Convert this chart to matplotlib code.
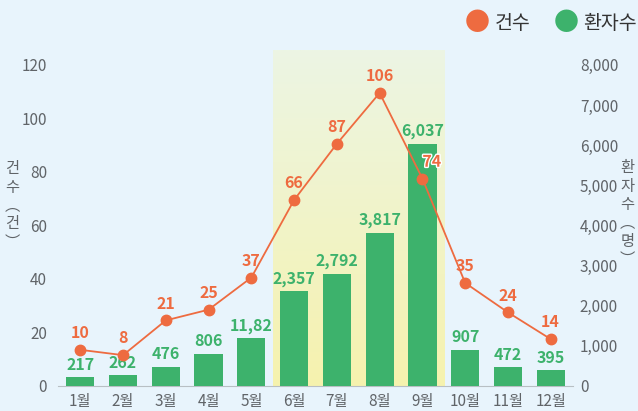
import numpy as np
import matplotlib.pyplot as plt
import matplotlib.patheffects as pe
from matplotlib.colors import LinearSegmentedColormap

plt.rcParams['font.family'] = ['Noto Sans CJK KR', 'DejaVu Sans']

# datos
months = ['1월', '2월', '3월', '4월', '5월', '6월', '7월', '8월', '9월', '10월', '11월', '12월']
cases = [10, 8, 21, 25, 37, 66, 87, 106, 74, 35, 24, 14]
patients = [217, 262, 476, 806, 1182, 2357, 2792, 3817, 6037, 907, 472, 395]
patient_labels = ['217', '262', '476', '806', '11,82', '2,357', '2,792', '3,817', '6,037', '907', '472', '395']
left_ticks = [0, 20, 40, 60, 80, 100, 120]
right_ticks = [0, 1000, 2000, 3000, 4000, 5000, 6000, 7000, 8000]

bg = '#e8f4fc'
orange = '#ee6b40'
green = '#3db26c'
grey = '#606468'

fig = plt.figure(figsize=(6.38, 4.11), dpi=100, facecolor=bg)
ax = fig.add_axes([0.091, 0.061, 0.807, 0.817])
ax.set_facecolor(bg)

x = np.arange(len(months))
ymax = 125.5
xlim = (-0.52, 11.52)

# zona resaltada (jun-sep) con degradado
cmap = LinearSegmentedColormap.from_list('hl', ['#f6f2ae', '#ecf5e4'])
grad = np.linspace(0, 1, 256).reshape(-1, 1)
ax.imshow(grad, cmap=cmap, origin='lower', aspect='auto',
          extent=[4.5, 8.5, 0, ymax], zorder=0)
ax.set_xlim(*xlim)
ax.set_ylim(0, ymax)

# barras (eje derecho)
ax2 = ax.twinx()
ax2.bar(x, patients, width=0.66, color=green, zorder=2)
ax2.set_ylim(0, 8000 * ymax / 120)
for xi, v, lab in zip(x, patients, patient_labels):
    ax2.text(xi, v + 110, lab, ha='center', va='bottom', color=green,
             fontsize=11.5, fontweight='bold')

# linea (el original la dibuja un poco por encima de la escala izquierda)
ax3 = ax.twinx()
ax3.set_ylim(-3.5, ymax - 3.5)
ax3.plot(x, cases, color=orange, lw=1.3, marker='o', ms=7.5, zorder=3)
halo = [pe.withStroke(linewidth=2, foreground='white')]
for xi, v in zip(x, cases):
    dx = 0.22 if v == 74 else 0
    ax3.text(xi + dx, v + 3.3, str(v), ha='center', va='bottom', color=orange,
             fontsize=11.5, fontweight='bold', path_effects=halo if dx else None)
ax3.set_yticks([])
ax3.set_xlim(*xlim)

# ejes
for a in (ax, ax2, ax3):
    for s in a.spines.values():
        s.set_visible(False)
ax.spines['bottom'].set_visible(True)
ax.spines['bottom'].set_color('#b8bfc4')
ax.set_xticks(x)
ax.set_xticklabels(months)
ax.set_yticks(left_ticks)
ax2.set_yticks(right_ticks)
ax2.set_yticklabels([f'{t:,}' for t in right_ticks])
ax.tick_params(axis='x', length=0, pad=5, labelsize=11, colors=grey)
ax.tick_params(axis='y', length=0, pad=8, labelsize=11, colors=grey)
ax2.tick_params(axis='y', length=0, pad=5, labelsize=11, colors=grey)

# titulos verticales
fig.text(0.019, 0.5, '건\n수\n︵\n건\n︶', ha='center', va='center', color=grey,
         fontsize=11, linespacing=1.1)
fig.text(0.983, 0.48, '환\n자\n수\n︵\n명\n︶', ha='center', va='center', color=grey,
         fontsize=11, linespacing=1.1)

# leyenda
fig.text(0.748, 0.944, '●', color=orange, fontsize=18, ha='center', va='center')
fig.text(0.804, 0.944, '건수', color='#333333', fontsize=14, ha='center', va='center')
fig.text(0.887, 0.944, '●', color=green, fontsize=18, ha='center', va='center')
fig.text(0.956, 0.944, '환자수', color='#333333', fontsize=14, ha='center', va='center')

fig.savefig('out.png', dpi=100, facecolor=bg)
